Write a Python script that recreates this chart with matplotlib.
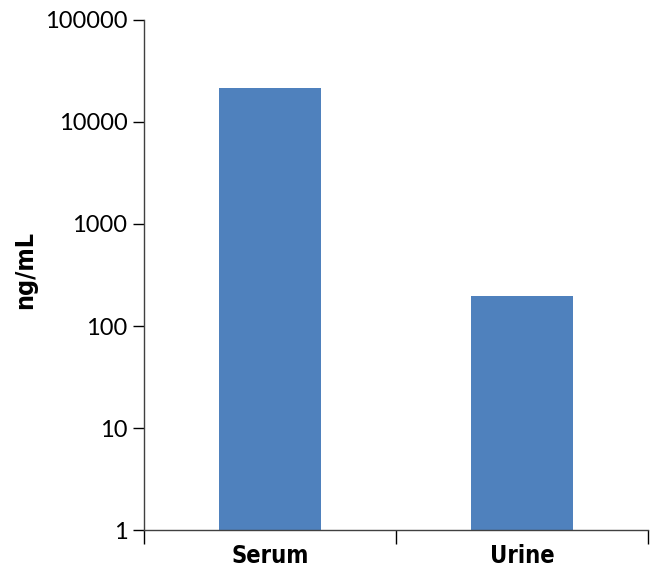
import matplotlib.pyplot as plt
from matplotlib.ticker import FixedLocator, NullFormatter

categories = ['Serum', 'Urine']
values = [21500, 195]
yticks = [1, 10, 100, 1000, 10000, 100000]

fig = plt.figure(figsize=(6.5, 5.69), dpi=100)
ax = fig.add_axes([0.2215, 0.0685, 0.7755, 0.8964])

x = range(len(categories))
ax.bar(x, values, width=0.405, color='#4F81BD', bottom=1)
ax.set_yscale('log')
ax.set_ylim(1, 100000)
ax.set_xlim(-0.5, 1.5)

ax.set_yticks(yticks)
ax.set_yticklabels([str(v) for v in yticks], family=['Lato', 'DejaVu Sans'], fontsize=17)
ax.yaxis.set_minor_locator(FixedLocator([]))
ax.tick_params(axis='y', direction='out', length=8, width=1, pad=4)

ax.set_xticks(list(x))
ax.set_xticklabels(categories, family='DejaVu Sans', stretch='condensed',
                   fontweight='bold', fontsize=17)
ax.tick_params(axis='x', which='major', length=0, pad=10)
ax.xaxis.set_minor_locator(FixedLocator([-0.5, 0.5, 1.5]))
ax.xaxis.set_minor_formatter(NullFormatter())
ax.tick_params(axis='x', which='minor', direction='out', length=10, width=1)

ax.set_ylabel('ng/mL', family='DejaVu Sans', stretch='condensed',
              fontweight='bold', fontsize=18)
ax.yaxis.set_label_coords(-0.212, 0.51)

for s in ['top', 'right']:
    ax.spines[s].set_visible(False)
for s in ['left', 'bottom']:
    ax.spines[s].set_color('#404040')
    ax.spines[s].set_linewidth(1)

fig.savefig('out.png', dpi=100)
